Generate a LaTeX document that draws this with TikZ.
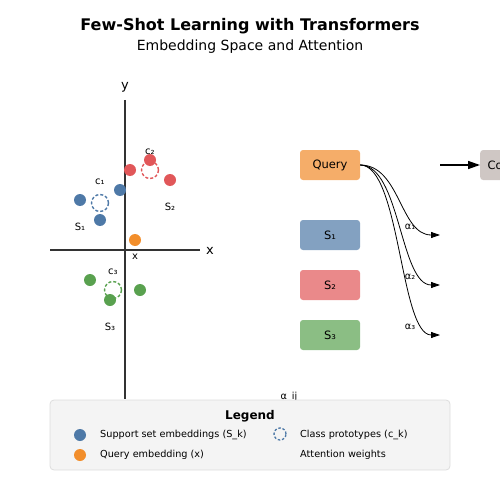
\documentclass[tikz,border=0pt]{standalone}
\usepackage{fontspec}
\setmainfont{DejaVu Sans}
\usetikzlibrary{arrows.meta}
\definecolor{cblue}{HTML}{4E79A7}
\definecolor{cred}{HTML}{E15759}
\definecolor{corange}{HTML}{F28E2B}
\definecolor{cgreen}{HTML}{59A14F}
\definecolor{bquery}{HTML}{F5AD69}
\definecolor{bsone}{HTML}{83A1C1}
\definecolor{bstwo}{HTML}{EA898A}
\definecolor{bsthree}{HTML}{8BBE84}
\definecolor{bctx}{HTML}{CFC7C4}
\definecolor{axisc}{HTML}{333333}
\definecolor{legfill}{HTML}{F4F4F4}
\definecolor{legdraw}{HTML}{DDDDDD}
\tikzset{
  emb/.style={circle, inner sep=0pt, minimum size=12pt, fill=#1},
  proto/.style={circle, draw=#1, dash pattern=on 3pt off 2pt, line width=1.4pt, minimum size=17pt, inner sep=0pt},
  boxn/.style={rounded corners=3pt, fill=#1, minimum width=60pt, minimum height=30pt, inner sep=0pt, font=\fontsize{11.5}{13}\selectfont},
  lbl/.style={font=\fontsize{10}{12}\selectfont, inner sep=0pt},
  small/.style={font=\fontsize{9.7}{11}\selectfont, inner sep=0pt},
  axisl/.style={line width=1.5pt, draw=axisc},
  att/.style={line width=0.8pt, -{Triangle[length=9pt,width=6pt]}},
}
\begin{document}
\begin{tikzpicture}[x=1pt,y=-1pt]
\useasboundingbox (0,0) rectangle (500,500);
\begin{scope}
\clip (0,0) rectangle (500,500);
% titles
\node[font=\fontsize{16}{19}\selectfont\bfseries, inner sep=0pt] (title) at (250,26) {Few-Shot Learning with Transformers};
\node[font=\fontsize{14}{17}\selectfont, inner sep=0pt] (subtitle) at (250,47) {Embedding Space and Attention};
% axes
\coordinate (ytop) at (125,100);
\coordinate (ybot) at (125,399);
\coordinate (xl) at (50,250);
\coordinate (xr) at (200,250);
\draw[axisl] (ytop) -- (ybot);
\draw[axisl] (xl) -- (xr);
\node[font=\fontsize{13}{15}\selectfont, inner sep=0pt] (ylab) at (125,87) {y};
\node[font=\fontsize{13}{15}\selectfont, inner sep=0pt] (xlab) at (210,251) {x};
% blue class
\node[emb=cblue] (b1) at (80,200) {};
\node[emb=cblue] (b2) at (100,220) {};
\node[emb=cblue] (b3) at (120,190) {};
\node[proto=cblue] (c1) at (100,203) {};
\node[lbl] (c1l) at (100,182) {c₁};
\node[lbl] (s1l) at (80,227) {S₁};
% red class
\node[emb=cred] (r1) at (130,170) {};
\node[emb=cred] (r2) at (150,160) {};
\node[emb=cred] (r3) at (170,180) {};
\node[proto=cred] (c2) at (150,170) {};
\node[lbl] (c2l) at (150,152) {c₂};
\node[lbl] (s2l) at (170,207) {S₂};
% query
\node[emb=corange] (qx) at (135,240) {};
\node[lbl] (qxl) at (135,257) {x};
% green class
\node[emb=cgreen] (g1) at (90,280) {};
\node[emb=cgreen] (g3) at (140,290) {};
\node[proto=cgreen] (c3) at (113,290) {};
\node[emb=cgreen] (g2) at (110,300) {};
\node[lbl] (c3l) at (113,272) {c₃};
\node[lbl] (s3l) at (110,327) {S₃};
% boxes
\node[boxn=bquery] (query) at (330,165) {Query};
\node[boxn=bsone] (bs1) at (330,235) {S₁};
\node[boxn=bstwo] (bs2) at (330,285) {S₂};
\node[boxn=bsthree] (bs3) at (330,335) {S₃};
\node[boxn=bctx, anchor=west] (ctx) at (480,165) {Context};
\coordinate (ain) at (440,165);
\draw[line width=1.5pt, -{Triangle[length=12pt,width=8pt]}] (ain) -- (ctx.west);
% attention
\coordinate (t1) at (440,235);
\coordinate (t2) at (440,285);
\coordinate (t3) at (440,335);
\draw[att] (query.east) .. controls +(40,0) and +(-40,0) .. (t1);
\draw[att] (query.east) .. controls +(40,0) and +(-40,0) .. (t2);
\draw[att] (query.east) .. controls +(40,0) and +(-40,0) .. (t3);
\node[small] (a1) at (410,227) {α₁};
\node[small] (a2) at (410,277) {α₂};
\node[small] (a3) at (410,327) {α₃};
\node[small] (aij) at (289,397) {α\symbol{"5F}ij};
% legend
\node[draw=legdraw, fill=legfill, rounded corners=4pt, line width=0.8pt, minimum width=400pt, minimum height=70pt, inner sep=0pt] (legend) at (250,435) {};
\node[font=\fontsize{12}{14}\selectfont\bfseries, inner sep=0pt] (legt) at (250,416) {Legend};
\node[emb=cblue] (lb) at (80,435) {};
\node[small, anchor=west] (lbt) at (100,435) {Support set embeddings (S\symbol{"5F}k)};
\node[emb=corange] (lo) at (80,455) {};
\node[small, anchor=west] (lot) at (100,455) {Query embedding (x)};
\node[proto=cblue, minimum size=12pt, line width=1.3pt, dash pattern=on 2.5pt off 1.8pt] (lp) at (280,434) {};
\node[small, anchor=west] (lpt) at (300,435) {Class prototypes (c\symbol{"5F}k)};
\node[small, anchor=west] (lat) at (300,455) {Attention weights};
\end{scope}
\end{tikzpicture}
\end{document}
